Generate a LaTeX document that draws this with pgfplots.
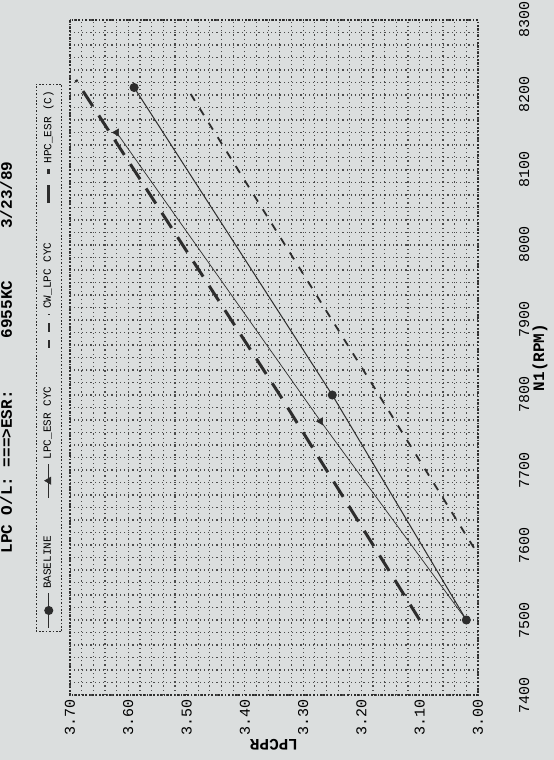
\documentclass[border=0pt]{standalone}
\usepackage{graphicx}
\usepackage{pgfplots}
\pgfplotsset{compat=1.18}
\usetikzlibrary{backgrounds,calc}
\usepackage{fontspec}
\setmainfont{Liberation Mono}
\definecolor{bgc}{RGB}{219,222,222}
\definecolor{ink}{RGB}{45,45,45}

\begin{document}
\rotatebox{90}{%
\begin{tikzpicture}
\begin{axis}[
    name=ax,
    scale only axis,
    width=337.5pt, height=204pt,
    xmin=7400, xmax=8300,
    ymin=3.0, ymax=3.7,
    xtick={7400,7500,7600,7700,7800,7900,8000,8100,8200,8300},
    xticklabels={7400,7500,7600,7700,7800,7900,8000,8100,8200,8300},
    ytick={3.0,3.1,3.2,3.3,3.4,3.5,3.6,3.7},
    yticklabels={3.00,3.10,3.20,3.30,3.40,3.50,3.60,3.70},
    minor x tick num=5,
    minor y tick num=4,
    grid=both,
    major grid style={ink!85, line width=0.6pt, dash pattern=on 0.6pt off 1.5pt},
    minor grid style={ink!85, line width=0.6pt, dash pattern=on 0.6pt off 1.5pt},
    axis line style={ink, line width=0.6pt, dash pattern=on 0.8pt off 0.9pt},
    major tick length=0pt, minor tick length=0pt,
    xticklabel style={font=\fontsize{7.5}{8}\selectfont},
    xticklabel shift=17pt,
    yticklabel style={font=\fontsize{7.5}{8}\selectfont, inner sep=2pt},
    xlabel={N1(RPM)},
    xlabel style={at={(axis description cs:0.5,-0.152)}, anchor=center, font=\fontsize{8}{9}\selectfont\bfseries},
    ylabel={LPCPR},
    ylabel style={at={(axis description cs:-0.074,0.5)}, anchor=center, font=\fontsize{8}{9}\selectfont\bfseries},
    title={LPC O/L: ===>ESR:\hspace{26pt}6955KC\hspace{26pt}3/23/89},
    title style={at={(axis description cs:0.5,1.127)}, anchor=center, font=\fontsize{8}{9}\selectfont\bfseries},
    legend columns=4,
    legend style={at={(axis description cs:0.5,1.052)}, anchor=center,
        draw=ink, dash pattern=on 0.8pt off 0.9pt, fill=none,
        font=\fontsize{5.5}{6}\selectfont, inner sep=1.5pt,
        /tikz/every even column/.append style={column sep=17pt}},
]
% BASELINE
\addplot[solid, ink, line width=0.5pt, mark=*, mark size=2pt, mark options={solid}]
    coordinates {(7500,3.02) (7800,3.25) (8210,3.59)};
\addlegendentry{BASELINE}
% LPC ESR
\addplot[solid, ink, line width=0.35pt, mark=triangle*, mark size=2pt, mark options={solid}]
    coordinates {(7500,3.02) (7765,3.27) (8150,3.62)};
\addlegendentry{LPC\_ESR CYC}
% short dashes
\addplot[ink, line width=0.9pt, dash pattern=on 4pt off 4.5pt]
    coordinates {(7500,2.93) (7800,3.17) (8210,3.50)};
\addlegendentry{CW\_LPC CYC}
% long bold dashes
\addplot[ink, line width=1.5pt, dash pattern=on 9pt off 5.5pt]
    coordinates {(7500,3.10) (7800,3.34) (8220,3.69)};
\addlegendentry{HPC\_ESR (C)}
\end{axis}
\pgfresetboundingbox
\begin{scope}[on background layer]
\fill[bgc] ($(ax.south west)+(-32.5pt,-38pt)$) rectangle ($(ax.north east)+(10pt,35pt)$);
\end{scope}
\end{tikzpicture}%
}
\end{document}
